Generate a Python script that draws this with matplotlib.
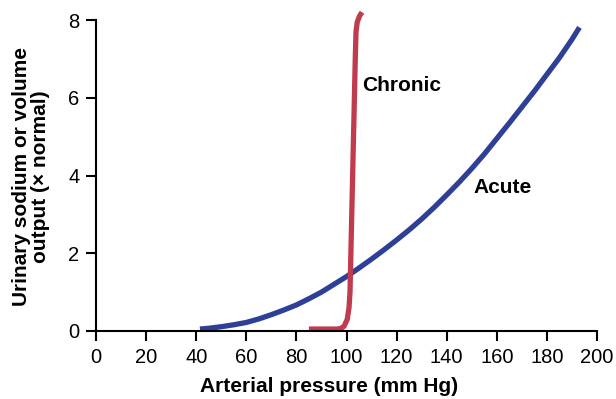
import matplotlib
matplotlib.use("Agg")
import matplotlib.pyplot as plt

plt.rcParams['font.family'] = ['Liberation Sans', 'DejaVu Sans']

# Acute pressure-natriuresis curve
acute_x = [41.5, 45, 50, 55, 60, 65, 70, 75, 80, 85, 90, 95, 100, 105, 110, 115, 120,
           125, 130, 135, 140, 145, 150, 155, 160, 165, 170, 175, 180, 185, 190, 193]
acute_y = [0.05, 0.07, 0.11, 0.16, 0.22, 0.31, 0.42, 0.54, 0.67, 0.83, 1.0, 1.2, 1.40,
           1.62, 1.85, 2.09, 2.34, 2.60, 2.88, 3.18, 3.50, 3.83, 4.18, 4.55, 4.95, 5.35,
           5.76, 6.17, 6.60, 7.03, 7.50, 7.81]

# Chronic pressure-natriuresis curve
chronic_x = [85, 92, 96, 97.5, 99, 100.3, 101.0, 101.4, 102.1, 102.8, 103.5, 103.8, 104.3, 105.2, 106.2]
chronic_y = [0.05, 0.05, 0.05, 0.06, 0.12, 0.3, 0.6, 1.0, 3.0, 5.0, 7.0, 7.7, 7.95, 8.1, 8.2]

x_ticks = [0, 20, 40, 60, 80, 100, 120, 140, 160, 180, 200]
y_ticks = [0, 2, 4, 6, 8]

fig = plt.figure(figsize=(6.16, 3.99), dpi=100)
ax = fig.add_axes([96/616, 68/399, 501/616, 311/399])

ax.plot(acute_x, acute_y, color='#2e3f97', lw=3.8, solid_capstyle='butt', solid_joinstyle='round', clip_on=False)
ax.plot(chronic_x, chronic_y, color='#c13b4f', lw=3.8, solid_capstyle='butt', solid_joinstyle='round', clip_on=False)

ax.set_xlim(0, 200)
ax.set_ylim(0, 8)
ax.set_xticks(x_ticks)
ax.set_yticks(y_ticks)
for s in ['top', 'right']:
    ax.spines[s].set_visible(False)
for s in ['left', 'bottom']:
    ax.spines[s].set_linewidth(1.5)
ax.tick_params(direction='out', length=7, width=1.5, labelsize=14.5, pad=5)

ax.text(106.2, 6.32, 'Chronic', fontsize=15, fontweight='bold', ha='left', va='center')
ax.text(150.5, 3.68, 'Acute', fontsize=15, fontweight='bold', ha='left', va='center')

fig.text(329/616, 12/399, 'Arterial pressure (mm Hg)', fontsize=15, fontweight='bold', ha='center', va='center')
fig.text(31/616, 222/399, 'Urinary sodium or volume\noutput (× normal)', fontsize=15, fontweight='bold',
         ha='center', va='center', rotation=90, multialignment='center', linespacing=1.05)

fig.savefig('out.png', dpi=100)
